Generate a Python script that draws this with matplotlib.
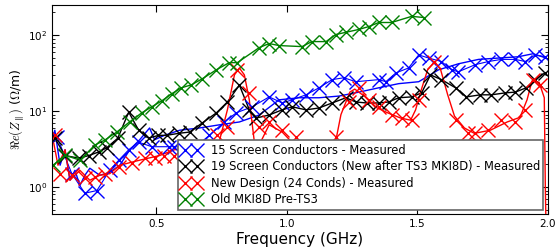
import matplotlib
matplotlib.use('Agg')
import matplotlib.pyplot as plt

plt.rcParams['mathtext.fontset'] = 'cm'

# 15 screen conductors - measured (markers)
f15 = [0.119, 0.176, 0.226, 0.272, 0.321, 0.356, 0.394, 0.432, 0.482, 0.547, 0.569, 0.646, 0.703,
       0.760, 0.806, 0.867, 0.932, 0.982, 1.020, 1.073, 1.123, 1.173, 1.218, 1.264, 1.352, 1.379,
       1.417, 1.466, 1.505, 1.543, 1.592, 1.631, 1.657, 1.722, 1.772, 1.821, 1.875, 1.913, 1.951, 1.989]
z15 = [4.6, 1.5, 0.83, 0.90, 1.66, 2.26, 3.1, 3.9, 3.4, 3.4, 3.4, 3.3, 4.8,
       7.2, 9.5, 11.4, 15.4, 12.8, 14.1, 16.4, 20.3, 26, 27.5, 24.4, 26, 24.4,
       31.8, 37, 55, 50, 45, 35, 33, 41, 45, 48, 48, 45, 55, 52]
# 15 screen conductors - dense curve
f15c = [0.1, 0.111, 0.131, 0.150, 0.169, 0.188, 0.207, 0.226, 0.245, 0.283, 0.321, 0.360, 0.398,
        0.436, 0.474, 0.493, 0.531, 0.589, 0.665, 0.741, 0.818, 0.894, 0.970, 1.047, 1.123, 1.200,
        1.276, 1.352, 1.428, 1.505, 1.581, 1.657, 1.734, 1.810, 1.886, 1.943, 1.993]
z15c = [4.2, 5.6, 1.94, 3.1, 1.23, 1.66, 1.05, 1.43, 1.77, 1.43, 1.56, 1.94, 3.1,
        4.2, 6.0, 4.2, 4.8, 5.6, 6.0, 6.6, 7.2, 8.9, 14.1, 15.0, 15.0, 15.8,
        17.8, 20.3, 23.0, 24.4, 35, 42, 48, 50, 52, 57, 50]

# 19 screen conductors (new after TS3 MKI8D) - measured
f19 = [0.111, 0.150, 0.203, 0.241, 0.279, 0.310, 0.352, 0.394, 0.432, 0.470, 0.508, 0.539, 0.585,
       0.627, 0.676, 0.730, 0.772, 0.818, 0.856, 0.882, 0.932, 0.982, 1.020, 1.073, 1.123, 1.173,
       1.226, 1.264, 1.306, 1.352, 1.390, 1.428, 1.478, 1.516, 1.550, 1.592, 1.646, 1.688, 1.741,
       1.783, 1.837, 1.875, 1.917, 1.951, 1.989]
z19 = [4.4, 2.6, 2.4, 2.6, 2.9, 3.3, 4.4, 9.7, 5.6, 4.4, 4.8, 4.8, 5.1,
       5.3, 7.0, 9.5, 13.2, 22, 10.4, 8.1, 8.9, 10.4, 11.4, 10.4, 11.0, 12.8,
       15.0, 13.2, 12.8, 12.8, 13.2, 15.0, 15.4, 17.4, 30, 26, 20.3, 15.4, 16.4,
       16.4, 17.4, 17.8, 20.3, 26, 32]

# new design (24 conds) - measured (markers)
fnew = [0.111, 0.131, 0.176, 0.226, 0.264, 0.302, 0.356, 0.405, 0.455, 0.493, 0.531, 0.569, 0.684,
        0.734, 0.772, 0.810, 0.856, 0.894, 0.932, 0.982, 1.035, 1.188, 1.237, 1.276, 1.314, 1.352,
        1.401, 1.440, 1.478, 1.505, 1.562, 1.646, 1.695, 1.722, 1.772, 1.821, 1.875, 1.913, 1.943, 1.970]
znew = [4.8, 1.5, 1.43, 1.3, 1.35, 1.5, 1.83, 2.1, 2.4, 2.4, 2.6, 2.6, 3.1,
        4.8, 6.2, 35, 17.4, 6.2, 7.2, 5.6, 4.5, 4.5, 13.2, 20.3, 14.1, 11.4,
        8.9, 8.1, 7.6, 14.1, 45, 7.6, 5.1, 5.1, 5.6, 7.6, 7.2, 10.4, 26, 22]
# new design - dense curve
fnewc = [0.1, 0.123, 0.150, 0.169, 0.207, 0.245, 0.283, 0.321, 0.360, 0.436, 0.512, 0.569, 0.650,
         0.741, 0.772, 0.799, 0.818, 0.837, 0.856, 0.875, 0.894, 0.932, 0.982, 1.047, 1.123, 1.188,
         1.207, 1.241, 1.260, 1.298, 1.337, 1.386, 1.436, 1.474, 1.493, 1.512, 1.539, 1.566, 1.589,
         1.616, 1.642, 1.680, 1.718, 1.779, 1.844, 1.893, 1.920, 1.939, 1.966, 1.986, 1.990, 1.992]
znewc = [5.0, 1.94, 3.1, 1.23, 1.66, 1.23, 1.43, 1.5, 1.94, 2.26, 2.6, 3.1, 3.4,
         4.0, 10.4, 30, 37, 30, 14, 4.0, 3.6, 6.6, 5.3, 3.1, 1.43, 4.2,
         9.0, 17.8, 19.5, 15.6, 11.4, 9.5, 8.1, 7.6, 10.4, 17.8, 35, 45, 35,
         16.4, 8.6, 6.0, 5.1, 5.6, 7.2, 8.3, 14.1, 25, 24, 15, 1.0, 0.4]

# old MKI8D pre-TS3
fold = [0.104, 0.150, 0.207, 0.264, 0.302, 0.348, 0.397, 0.444, 0.482, 0.520, 0.558, 0.596, 0.634,
        0.676, 0.730, 0.779, 0.810, 0.894, 0.932, 0.970, 1.058, 1.096, 1.150, 1.187, 1.225, 1.275,
        1.314, 1.352, 1.401, 1.478, 1.524]
zold = [1.94, 2.63, 2.26, 3.57, 4.15, 5.3, 7.2, 9.5, 11.4, 13.6, 16.9, 20.3, 22.2,
        26.7, 35.1, 43.5, 43.5, 68.7, 77.6, 73, 70.8, 82.4, 82.4, 102, 109, 119,
        130, 147, 147, 177, 171]

fig = plt.figure(figsize=(5.56, 2.49), dpi=100)
ax = fig.add_axes([0.0935, 0.14, 0.892, 0.84])

mk = dict(marker='x', markersize=10.5, markeredgewidth=1.0, linestyle='none')

ax.plot(f15c, z15c, color='blue', lw=1)
ax.plot(f15, z15, color='blue', lw=0.8)
ax.plot(f19, z19, color='black', lw=1)
ax.plot(fnewc, znewc, color='red', lw=1)
ax.plot(fold, zold, color='green', lw=1)

ax.plot(f15, z15, color='blue', label='15 Screen Conductors - Measured', **mk)
ax.plot(f19, z19, color='black', label='19 Screen Conductors (New after TS3 MKI8D) - Measured', **mk)
ax.plot(fnew, znew, color='red', label='New Design (24 Conds) - Measured', **mk)
ax.plot(fold, zold, color='green', label='Old MKI8D Pre-TS3', **mk)

ax.set_yscale('log')
ax.set_xlim(0.1, 2.0)
ax.set_ylim(0.44, 250)
ax.set_xticks([0.5, 1.0, 1.5, 2.0])
ax.set_xticklabels(['0.5', '1.0', '1.5', '2.0'])
ax.tick_params(which='both', direction='in', top=True, right=True, labelsize=7.5)
ax.tick_params(which='major', length=5)
ax.tick_params(which='minor', length=2.5)

ax.set_xlabel('Frequency (GHz)', fontsize=11, labelpad=2)
ax.set_ylabel(r'$\Re e(Z_{\parallel})$ ($\Omega$/m)', fontsize=9, labelpad=1)

leg = ax.legend(loc='lower right', fontsize=8.3, numpoints=2, handlelength=1.6,
                handletextpad=0.9, labelspacing=0.3, borderaxespad=0.4,
                borderpad=0.3, fancybox=False, framealpha=1)
leg.get_frame().set_edgecolor('0.4')
leg.get_frame().set_linewidth(1.2)

fig.savefig('out.png', dpi=100)
